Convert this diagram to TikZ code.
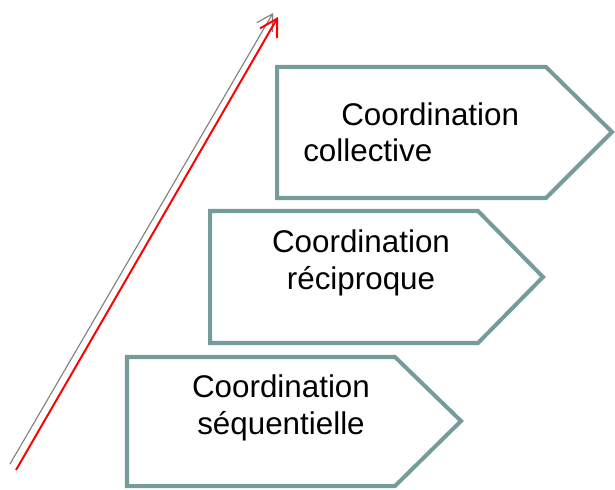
\documentclass[tikz,border=0pt]{standalone}
\usepackage{fontspec}
\setmainfont{Liberation Sans}
\usepackage{tikz}
\usetikzlibrary{arrows.meta}
\definecolor{boxgrau}{RGB}{117,155,154}
\tikzset{
	kasten/.style={draw=boxgrau, line width=2.85pt, line join=miter},
	beschriftung/.style={inner sep=0pt, font=\fontsize{22.3}{26.3}\selectfont},
}

\begin{document}
\begin{tikzpicture}[x=0.025cm, y=-0.025cm]
	\useasboundingbox (0,0) rectangle (615,490);
	% pfeile links
	\coordinate (grauA) at (10,464);
	\coordinate (grauB) at (273,13);
	\coordinate (rotA) at (16,470);
	\coordinate (rotB) at (278,17);
	\draw[gray, line width=0.8pt, -{Straight Barb[length=11pt, width=13pt]}] (grauA) -- (grauB);
	\draw[red, line width=1.4pt, -{Straight Barb[length=12pt, width=14pt]}] (rotA) -- (rotB);
	% obere kante, collective
	\draw[kasten] (277,67) -- (546,67) -- (612,132) -- (546,198) -- (277,198) -- cycle;
	\node[beschriftung, anchor=north west, align=left] (col) at (303,102)
		{\hspace{27pt}Coordination\\collective};
	% mitte, réciproque
	\draw[kasten] (210,211) -- (478,211) -- (543,277) -- (478,343) -- (210,343) -- cycle;
	\node[beschriftung, align=center] (rec) at (361,263) {Coordination\\réciproque};
	% untere kante, séquentielle
	\draw[kasten] (127,357) -- (395,357) -- (461,421) -- (395,486) -- (127,486) -- cycle;
	\node[beschriftung, align=center] (seq) at (281,408) {Coordination\\séquentielle};
\end{tikzpicture}
\end{document}
